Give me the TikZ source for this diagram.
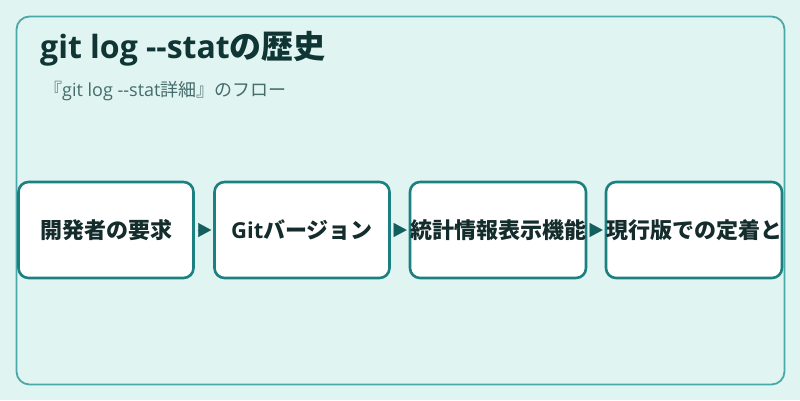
\documentclass[tikz,border=0pt]{standalone}
\usepackage{fontspec}
\setmainfont{Noto Sans CJK JP}[Ligatures=TeXOff]
\newfontfamily\latinfont{Open Sans}[Ligatures=TeXOff]
\usetikzlibrary{arrows.meta}
\definecolor{bgc}{HTML}{E0F4F2}
\definecolor{framec}{HTML}{4BA8A8}
\definecolor{boxc}{HTML}{1D8080}
\definecolor{arrc}{HTML}{155E5E}
\definecolor{titlec}{HTML}{0F3535}
\definecolor{subc}{HTML}{466C6C}
\definecolor{textc}{HTML}{142C2C}
\tikzset{
  stepbox/.style={draw=boxc, fill=white, line width=2.6pt, rounded corners=10pt,
    minimum width=175pt, minimum height=96pt, inner sep=0pt,
    font=\fontsize{22}{25}\selectfont\bfseries, text=textc},
  flowarrow/.style={draw=arrc, fill=arrc, line width=0.1pt,
    -{Triangle[length=13pt,width=14pt]}, shorten <=3pt, shorten >=2pt}
}
\begin{document}
\begin{tikzpicture}[x=1pt,y=-1pt]
\fill[bgc] (0,0) rectangle (800,400);
\useasboundingbox (0,0) rectangle (800,400);
\draw[framec, line width=1.8pt, rounded corners=13pt] (16.5,16.5) rectangle (784.5,384.5);
\node[anchor=base west, inner sep=0pt, text=titlec, font=\fontsize{32}{36}\selectfont\bfseries] (title) at (40,58.5) {{\latinfont\fontsize{32}{36}\selectfont\bfseries git log --stat}の歴史};
\node[anchor=base west, inner sep=0pt, text=subc, font=\fontsize{18}{21}\selectfont] (sub) at (44,96) {『{\latinfont git log --stat}詳細』のフロー};
\node[stepbox] (b1) at (106,230) {開発者の要求};
\node[stepbox] (b2) at (302,230) {{\latinfont\bfseries Git}バージョン};
\node[stepbox] (b3) at (498,230) {統計情報表示機能};
\node[stepbox] (b4) at (694,230) {現行版での定着と};
\draw[flowarrow] (b1.east) -- (b2.west);
\draw[flowarrow] (b2.east) -- (b3.west);
\draw[flowarrow] (b3.east) -- (b4.west);
\end{tikzpicture}
\end{document}
